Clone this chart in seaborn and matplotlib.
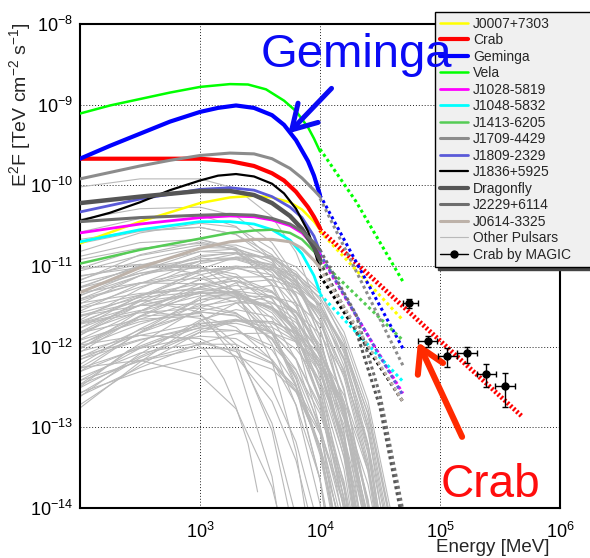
import numpy as np
import pandas as pd
import matplotlib
matplotlib.use("Agg")
import matplotlib.pyplot as plt
from matplotlib.lines import Line2D
from matplotlib.ticker import LogLocator, FixedLocator, NullFormatter
import seaborn as sns

# ------------------------------------------------------------------
# values: log10(E / MeV) and log10(E^2 F)
# ------------------------------------------------------------------
LOGE_STD = [2.0, 2.5, 3.0, 3.25, 3.45, 3.6, 3.75, 3.85, 3.95, 4.0]

J0007_F = [-10.72, -10.45, -10.22, -10.15, -10.13, -10.15, -10.21, -10.30, -10.45, -10.55]
CRAB_LOGE = [2.0, 2.5, 3.0, 3.25, 3.45, 3.6, 3.7, 3.8, 3.9, 3.95, 4.0]
CRAB_F = [-9.67, -9.67, -9.67, -9.70, -9.76, -9.85, -9.94, -10.08, -10.27, -10.39, -10.53]
GEMINGA_LOGE = [2.0, 2.25, 2.5, 2.75, 3.0, 3.15, 3.3, 3.45, 3.6, 3.7, 3.8, 3.9, 3.95, 4.0]
GEMINGA_F = [-9.67, -9.51, -9.36, -9.21, -9.09, -9.04, -9.01, -9.04, -9.13, -9.25,
             -9.44, -9.70, -9.88, -10.12]
VELA_LOGE = [2.0, 2.25, 2.5, 2.75, 3.0, 3.25, 3.4, 3.55, 3.7, 3.8, 3.9, 3.95, 4.0]
VELA_F = [-9.11, -9.01, -8.93, -8.85, -8.78, -8.745, -8.75, -8.81, -8.95, -9.08,
          -9.28, -9.42, -9.58]
J1028_F = [-10.59, -10.48, -10.40, -10.38, -10.39, -10.43, -10.50, -10.59, -10.75, -10.85]
J1048_F = [-10.70, -10.55, -10.45, -10.45, -10.48, -10.55, -10.68, -10.85, -11.12, -11.33]
J1413_F = [-10.97, -10.80, -10.66, -10.59, -10.56, -10.55, -10.59, -10.67, -10.82, -10.92]
J1709_LOGE = [2.0, 2.5, 2.75, 3.0, 3.25, 3.45, 3.6, 3.75, 3.85, 3.95, 4.0]
J1709_F = [-9.92, -9.76, -9.69, -9.63, -9.60, -9.61, -9.67, -9.79, -9.91, -10.06, -10.14]
J1809_F = [-10.33, -10.17, -10.05, -10.03, -10.06, -10.14, -10.27, -10.40, -10.63, -10.82]
J1836_LOGE = [2.0, 2.25, 2.5, 2.75, 3.0, 3.15, 3.3, 3.45, 3.6, 3.7, 3.8, 3.9, 3.95, 4.0]
J1836_F = [-10.44, -10.34, -10.21, -10.06, -9.94, -9.88, -9.86, -9.89, -9.98, -10.10,
           -10.29, -10.57, -10.78, -11.05]
DRAGONFLY_F = [-10.22, -10.14, -10.07, -10.07, -10.12, -10.22, -10.38, -10.54, -10.77, -10.92]
J2229_F = [-10.45, -10.40, -10.37, -10.36, -10.37, -10.41, -10.48, -10.57, -10.71, -10.80]
J0614_F = [-11.33, -11.02, -10.78, -10.70, -10.67, -10.67, -10.70, -10.78, -10.93, -11.02]

# extrapolations above 10 GeV (dotted)
EXT_LOGE = [4.0, 4.69]
J0007_EXT = [-10.57, -11.67]
CRAB_EXT_LOGE = [4.0, 5.68]
CRAB_EXT = [-10.55, -12.86]
GEMINGA_EXT = [-10.12, -12.02]
VELA_EXT_LOGE = [4.0, 4.3, 4.69]
VELA_EXT = [-9.55, -10.20, -11.19]
J1028_EXT = [-10.87, -12.58]
J1048_EXT = [-11.35, -12.43]
J1413_EXT = [-10.93, -11.92]
J1709_EXT = [-10.16, -12.23]
J1809_EXT = [-10.85, -12.60]
J1836_EXT = [-11.12, -12.68]
DRAGONFLY_EXT_LOGE = [4.0, 4.3, 4.5, 4.68]
DRAGONFLY_EXT = [-10.95, -11.80, -12.75, -14.10]
J2229_EXT_LOGE = [4.0, 4.3, 4.5, 4.70]
J2229_EXT = [-10.80, -11.60, -12.60, -14.10]
J0614_EXT = [-11.03, -12.68]

# other pulsars (thin grey), values on a shared energy grid
OTHER_LOGE = [2.0, 2.5, 3.0, 3.3, 3.6, 3.8, 4.0, 4.2, 4.4, 4.6]
OTHER_F = [
    [-11.06, -10.87, -10.74, -10.74, -10.88, -11.11, -11.52, -12.24, -13.42, -15.35],
    [-11.12, -11.02, -11.02, -11.14, -11.49, -11.93, -12.68, -13.89, -15.85],
    [-11.17, -10.93, -10.77, -10.78, -10.96, -11.25, -11.78, -12.68, -14.17],
    [-11.21, -11.03, -10.91, -10.90, -10.99, -11.17, -11.49, -12.05, -12.98, -14.50],
    [-11.27, -10.99, -10.82, -10.84, -11.08, -11.45, -12.13, -13.27, -15.16],
    [-11.33, -11.21, -11.22, -11.39, -11.83, -12.40, -13.34, -14.87],
    [-11.31, -11.09, -10.94, -10.92, -11.05, -11.27, -11.67, -12.38, -13.55, -15.47],
    [-11.37, -11.06, -10.82, -10.79, -10.92, -11.18, -11.68, -12.55, -14.01],
    [-11.41, -11.21, -11.06, -11.03, -11.11, -11.28, -11.59, -12.14, -13.06, -14.57],
    [-11.43, -11.21, -11.15, -11.31, -11.81, -12.50, -13.65, -15.55],
    [-11.47, -11.12, -10.87, -10.84, -11.04, -11.38, -12.03, -13.14, -15.00],
    [-11.52, -11.36, -11.27, -11.33, -11.55, -11.87, -12.43, -13.36, -14.88],
    [-11.51, -11.26, -11.06, -11.00, -11.05, -11.20, -11.49, -12.02, -12.92, -14.41],
    [-11.56, -11.22, -10.94, -10.85, -10.90, -11.07, -11.42, -12.08, -13.20, -15.07],
    [-11.62, -11.49, -11.47, -11.58, -11.91, -12.34, -13.08, -14.28],
    [-11.63, -11.36, -11.22, -11.30, -11.65, -12.16, -13.04, -14.51],
    [-11.67, -11.28, -10.97, -10.89, -10.98, -11.21, -11.68, -12.52, -13.95, -16.32],
    [-11.71, -11.49, -11.34, -11.32, -11.45, -11.67, -12.07, -12.78, -13.95, -15.87],
    [-11.71, -11.38, -11.11, -11.01, -11.01, -11.13, -11.39, -11.89, -12.76, -14.22],
    [-11.77, -11.37, -11.07, -11.01, -11.18, -11.50, -12.13, -13.22, -15.06],
    [-11.83, -11.66, -11.62, -11.76, -12.17, -12.72, -13.64, -15.15],
    [-11.82, -11.56, -11.37, -11.37, -11.53, -11.81, -12.33, -13.22, -14.70],
    [-11.86, -11.42, -11.04, -10.89, -10.88, -11.01, -11.32, -11.94, -13.02, -14.85],
    [-11.92, -11.69, -11.57, -11.62, -11.89, -12.28, -12.98, -14.14],
    [-11.91, -11.56, -11.26, -11.14, -11.13, -11.24, -11.49, -11.98, -12.84, -14.29],
    [-11.98, -11.86, -11.90, -12.12, -12.68, -13.41, -14.60],
    [-12.02, -11.63, -11.32, -11.24, -11.33, -11.56, -12.03, -12.87, -14.30],
    [-12.01, -11.72, -11.49, -11.43, -11.51, -11.70, -12.07, -12.75, -13.89, -15.78],
    [-12.07, -11.62, -11.27, -11.18, -11.32, -11.62, -12.23, -13.30, -15.12],
    [-12.12, -11.91, -11.77, -11.80, -11.99, -12.29, -12.83, -13.74, -15.24],
    [-12.13, -11.79, -11.57, -11.61, -11.91, -12.39, -13.24, -14.68],
    [-12.16, -11.83, -11.56, -11.46, -11.46, -11.58, -11.84, -12.34, -13.21, -14.67],
    [-12.22, -11.78, -11.42, -11.31, -11.37, -11.58, -12.03, -12.85, -14.26],
    [-12.27, -12.02, -11.87, -11.90, -12.16, -12.54, -13.23, -14.38],
    [-12.31, -11.82, -11.39, -11.21, -11.17, -11.28, -11.57, -12.17, -13.23, -15.04],
    [-12.38, -12.08, -11.95, -12.06, -12.52, -13.18, -14.30],
    [-12.42, -12.02, -11.72, -11.66, -11.83, -12.15, -12.78, -13.87, -15.71],
    [-12.47, -11.96, -11.52, -11.37, -11.38, -11.56, -11.98, -12.77, -14.15],
    [-12.51, -12.12, -11.79, -11.67, -11.69, -11.84, -12.17, -12.81, -13.91, -15.76],
    [-12.58, -12.14, -11.82, -11.80, -12.04, -12.48, -13.29, -14.69],
    [-12.62, -12.09, -11.67, -11.54, -11.63, -11.90, -12.48, -13.52, -15.31],
    [-12.72, -12.23, -11.82, -11.68, -11.71, -11.90, -12.33, -13.13, -14.52],
    [-12.76, -12.19, -11.69, -11.46, -11.38, -11.46, -11.72, -12.29, -13.32, -15.10],
    [-11.03, -10.79, -10.67, -10.77, -11.13, -11.65, -12.54, -14.02],
    [-11.26, -11.00, -11.00, -11.32, -12.18, -13.30, -15.17],
    [-11.46, -11.34, -11.29, -11.33, -11.52, -11.78, -12.22, -12.97, -14.18],
    [-11.71, -11.55, -11.65, -12.03, -12.95, -14.11],
    [-11.86, -11.48, -11.16, -11.03, -11.00, -11.10, -11.34, -11.82, -12.67, -14.11],
    [-12.06, -11.86, -11.71, -11.68, -11.76, -11.93, -12.24, -12.79, -13.71, -15.22],
    [-12.31, -12.01, -11.76, -11.67, -11.69, -11.82, -12.09, -12.60, -13.48, -14.95],
    [-10.42, -10.29, -10.27, -10.38, -10.71, -11.14, -11.88, -13.08, -15.03],
    [-10.58, -10.41, -10.37, -10.51, -10.92, -11.47, -12.39, -13.90, -16.35],
    [-10.72, -10.57, -10.52, -10.61, -10.93, -11.35, -12.08, -13.27, -15.21],
    [-10.82, -10.59, -10.47, -10.52, -10.79, -11.18, -11.88, -13.04, -14.95],
    [-10.92, -10.78, -10.72, -10.79, -11.03, -11.36, -11.93, -12.87, -14.40],
    [-10.02, -9.92, -9.92, -10.04, -10.39, -10.83, -11.58, -12.79, -14.75],
    [-12.26, -12.17, -12.35, -12.77, -13.74, -14.93],
    [-11.03, -10.98, -11.10, -11.36, -11.97, -12.73, -13.95, -15.92],
    [-12.61, -12.26, -11.96, -11.84, -11.83, -11.94, -12.19, -12.68, -13.54, -14.99],
    [-11.69, -11.42, -11.57, -12.16, -13.61, -15.45],
    [-11.97, -11.62, -11.59, -11.97, -13.04, -14.44],
    [-11.36, -11.12, -10.94, -10.91, -11.02, -11.23, -11.62, -12.32, -13.48, -15.39],
    [-11.77, -11.49, -11.32, -11.34, -11.58, -11.95, -12.63, -13.77, -15.66],
    [-12.42, -12.18, -12.02, -12.03, -12.21, -12.50, -13.03, -13.93, -15.42],
    [-11.18, -10.86, -10.70, -10.80, -11.24, -11.89, -13.00, -14.86],
    [-11.27, -11.09, -11.02, -11.10, -11.40, -11.81, -12.53, -13.71, -15.64],
    [-11.58, -11.39, -11.32, -11.45, -11.84, -12.38, -13.29, -14.79],
    [-11.97, -11.66, -11.42, -11.39, -11.52, -11.78, -12.28, -13.15, -14.61],
    [-12.16, -11.92, -11.74, -11.71, -11.82, -12.03, -12.42, -13.12, -14.28],
    [-11.41, -11.12, -10.89, -10.83, -10.91, -11.10, -11.47, -12.15, -13.29, -15.18],
    [-11.82, -11.44, -11.17, -11.13, -11.31, -11.64, -12.28, -13.38, -15.23],
    [-12.47, -12.17, -11.97, -11.97, -12.20, -12.56, -13.23, -14.36],
    [-11.61, -11.44, -11.34, -11.35, -11.51, -11.75, -12.17, -12.90, -14.09],
    [-12.03, -11.56, -11.22, -11.18, -11.41, -11.84, -12.64, -14.03],
    [-11.13, -10.98, -11.00, -11.20, -11.75, -12.47, -13.65, -15.58],
    [-12.26, -11.83, -11.46, -11.30, -11.24, -11.32, -11.54, -12.00, -12.83, -14.25],
    [-11.72, -11.58, -11.52, -11.59, -11.83, -12.16, -12.73, -13.67, -15.20],
    [-12.57, -12.31, -12.12, -12.12, -12.28, -12.56, -13.08, -13.97, -15.57],
    [-10.67, -10.56, -10.52, -10.61, -10.86, -11.20, -11.78, -12.73, -14.27],
    [-10.88, -10.71, -10.67, -10.81, -11.22, -11.77, -12.69, -14.20],
]
# one faint pulsar whose curve stops at ~3 GeV
SHORT_LOGE = [2.0, 2.4, 2.7, 2.9, 3.05, 3.2, 3.3, 3.4, 3.48]
SHORT_F = [-12.50, -12.05, -11.88, -11.90, -12.05, -12.40, -12.75, -13.20, -13.80]

# Crab measured by MAGIC (MeV, TeV cm-2 s-1)
MAGIC_E = [55500, 80000, 115000, 167000, 240000, 348000]
MAGIC_E_LO = [48900, 66100, 96800, 138000, 202000, 287000]
MAGIC_E_HI = [65900, 94800, 139300, 202000, 293000, 422000]
MAGIC_F = [3.45e-12, 1.19e-12, 7.7e-13, 8.3e-13, 4.6e-13, 3.3e-13]
MAGIC_F_LO = [3.0e-12, 1.0e-12, 5.65e-13, 6.2e-13, 3.2e-13, 1.77e-13]
MAGIC_F_HI = [3.95e-12, 1.37e-12, 9.6e-13, 1.0e-12, 6.1e-13, 4.76e-13]

# name, solid energies, solid flux, ext energies, ext flux, colour, width
NAMED = [
    ("J0007+7303", LOGE_STD, J0007_F, EXT_LOGE, J0007_EXT, "#ffff00", 1.8),
    ("Crab", CRAB_LOGE, CRAB_F, CRAB_EXT_LOGE, CRAB_EXT, "#ff0000", 3.0),
    ("Geminga", GEMINGA_LOGE, GEMINGA_F, EXT_LOGE, GEMINGA_EXT, "#0000ff", 3.0),
    ("Vela", VELA_LOGE, VELA_F, VELA_EXT_LOGE, VELA_EXT, "#00ff00", 1.8),
    ("J1028-5819", LOGE_STD, J1028_F, EXT_LOGE, J1028_EXT, "#ff00ff", 2.0),
    ("J1048-5832", LOGE_STD, J1048_F, EXT_LOGE, J1048_EXT, "#00ffff", 2.0),
    ("J1413-6205", LOGE_STD, J1413_F, EXT_LOGE, J1413_EXT, "#55cc55", 1.8),
    ("J1709-4429", J1709_LOGE, J1709_F, EXT_LOGE, J1709_EXT, "#8c8c8c", 2.2),
    ("J1809-2329", LOGE_STD, J1809_F, EXT_LOGE, J1809_EXT, "#5a5ad8", 2.0),
    ("J1836+5925", J1836_LOGE, J1836_F, EXT_LOGE, J1836_EXT, "#000000", 1.6),
    ("Dragonfly", LOGE_STD, DRAGONFLY_F, DRAGONFLY_EXT_LOGE, DRAGONFLY_EXT, "#555555", 3.2),
    ("J2229+6114", LOGE_STD, J2229_F, J2229_EXT_LOGE, J2229_EXT, "#6e6e6e", 2.2),
    ("J0614-3325", LOGE_STD, J0614_F, EXT_LOGE, J0614_EXT, "#bdb2a9", 2.2),
]
OTHER_COLOR = "#b9b9b9"

# ------------------------------------------------------------------
sns.set_theme(style="white")
plt.rcParams["font.family"] = ["Liberation Sans", "DejaVu Sans"]
plt.rcParams["mathtext.default"] = "regular"
plt.rcParams["axes.edgecolor"] = "black"
plt.rcParams["axes.linewidth"] = 1.5

fig = plt.figure(figsize=(5.9, 5.58), dpi=100)
ax = fig.add_axes([80 / 590, 50 / 558, 480 / 590, 484 / 558])
ax.set_xscale("log")
ax.set_yscale("log")

# grey population
rows = []
for i, vals in enumerate(OTHER_F):
    for le, lf in zip(OTHER_LOGE, vals):
        rows.append((i, 10 ** le, 10 ** lf))
for le, lf in zip(SHORT_LOGE, SHORT_F):
    rows.append((len(OTHER_F), 10 ** le, 10 ** lf))
other = pd.DataFrame(rows, columns=["psr", "E", "F"])
sns.lineplot(data=other, x="E", y="F", units="psr", estimator=None,
             color=OTHER_COLOR, lw=0.8, ax=ax, legend=False, zorder=1)

# named pulsars: fitted range solid, extrapolation dotted
for name, le, lf, xe, xf, col, lw in NAMED:
    sns.lineplot(x=10 ** np.array(le), y=10 ** np.array(lf), color=col,
                 lw=lw, ax=ax, zorder=3)
    if name == "Crab":
        ls, dlw = (0, (0.45, 0.45)), 3.4
    else:
        ls, dlw = (0, (1, 1)), 2.2
    sns.lineplot(x=10 ** np.array(xe), y=10 ** np.array(xf), color=col,
                 lw=dlw, ls=ls, ax=ax, zorder=2.5)

# MAGIC points
me, mf = np.array(MAGIC_E), np.array(MAGIC_F)
ax.errorbar(me, mf,
            xerr=[me - np.array(MAGIC_E_LO), np.array(MAGIC_E_HI) - me],
            yerr=[mf - np.array(MAGIC_F_LO), np.array(MAGIC_F_HI) - mf],
            fmt="o", color="black", ms=5, elinewidth=1, capsize=2,
            capthick=1, zorder=6)

ax.set_xlim(1e2, 1e6)
ax.set_ylim(1e-14, 1e-8)
ax.set_xlabel("")
ax.set_ylabel("")

# ROOT-like axes
ax.xaxis.set_major_locator(FixedLocator([1e3, 1e4, 1e5, 1e6]))
ax.xaxis.set_minor_locator(LogLocator(base=10, subs=np.arange(2, 10), numticks=50))
ax.yaxis.set_major_locator(FixedLocator([1e-14, 1e-13, 1e-12, 1e-11, 1e-10, 1e-9, 1e-8]))
ax.yaxis.set_minor_locator(LogLocator(base=10, subs=np.arange(2, 10), numticks=100))
ax.xaxis.set_minor_formatter(NullFormatter())
ax.yaxis.set_minor_formatter(NullFormatter())
ax.tick_params(which="both", direction="in", top=False, right=False,
               width=1, color="black", labelcolor="black")
ax.tick_params(which="major", length=9, labelsize=13)
ax.tick_params(which="minor", length=5)
ax.tick_params(axis="x", which="major", pad=10)
ax.tick_params(axis="y", which="major", pad=5)
ax.grid(True, which="major", color="#222222", ls=(0, (1, 2)), lw=0.7)
ax.set_axisbelow(True)

fig.text(20 / 590, 1 - 22 / 558, "E$^{2}$F [TeV cm$^{-2}$ s$^{-1}$]",
         rotation=90, ha="center", va="top", fontsize=14)
fig.text(549 / 590, 1 - 548 / 558, "Energy [MeV]", ha="right",
         va="center", fontsize=13.5)

# annotations
fig.text(356 / 590, 1 - 67 / 558, "Geminga", ha="center", va="baseline",
         fontsize=34, color="#0a0af5", zorder=7)
ax.annotate("", xy=(0.434, 0.774), xytext=(0.524, 0.867),
            xycoords="axes fraction", textcoords="axes fraction",
            arrowprops=dict(arrowstyle="->,head_length=0.85,head_width=0.5",
                            lw=3.6, color="#0a0af5", mutation_scale=20,
                            shrinkA=0, shrinkB=0))
ax.text(0.856, 0.023, "Crab", transform=ax.transAxes, ha="center",
        va="baseline", fontsize=33, color="#ff0d0d")
ax.annotate("", xy=(0.704, 0.343), xytext=(0.796, 0.147),
            xycoords="axes fraction", textcoords="axes fraction",
            arrowprops=dict(arrowstyle="->,head_length=0.85,head_width=0.5",
                            lw=4.4, color="#ff2a00", mutation_scale=20,
                            shrinkA=0, shrinkB=0))

# legend
handles = [Line2D([], [], color=c, lw=min(w, 3.0)) for _, _, _, _, _, c, w in NAMED]
handles.append(Line2D([], [], color=OTHER_COLOR, lw=0.8))
handles.append(Line2D([], [], color="black", lw=1, marker="o", ms=5))
labels = [n for n, *_ in NAMED] + ["Other Pulsars", "Crab by MAGIC"]
leg = fig.legend(handles, labels, loc="upper left",
                 bbox_to_anchor=(435 / 590, 1 - 12 / 558, 170 / 590, 0),
                 mode="expand", fontsize=10, frameon=True, fancybox=False,
                 edgecolor="black", facecolor="#f0f0f0", framealpha=1,
                 borderpad=0.35, labelspacing=0.18, handlelength=2.0,
                 handletextpad=0.4, borderaxespad=0,
                 shadow={"color": "#444444", "alpha": 1})
leg.get_frame().set_linewidth(1.0)
leg.set_zorder(5)

fig.savefig("out.png", dpi=100)
